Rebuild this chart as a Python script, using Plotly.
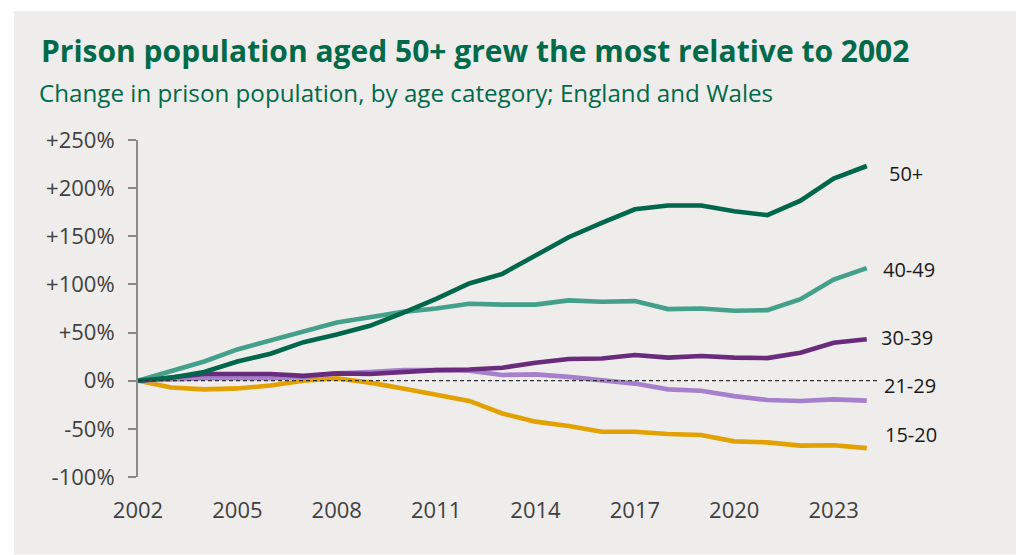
import plotly.graph_objects as go

years = list(range(2002, 2025))

age_15_20 = [0, -7, -9, -8, -5, 0, 2.5, -2, -8, -15, -21, -34, -42.5, -47, -53, -53, -55.3, -56.3, -63, -64, -67.4, -67, -70]
age_21_29 = [0, 1.5, 2.5, 2.5, 2.5, 4, 7.6, 9, 11, 11, 10.5, 6, 6.6, 4, 0, -3, -9, -10.4, -16, -20, -21, -19.4, -20.7]
age_30_39 = [0, 4, 7, 7, 7, 5, 7.6, 7, 9.4, 11, 11.7, 13.5, 18.7, 22.5, 23, 26.7, 24, 25.6, 24, 23.5, 29, 39.4, 43]
age_40_49 = [0, 10.4, 20, 32.5, 42, 51.5, 60.5, 66, 71.5, 75, 80, 79, 79, 83.4, 82, 82.7, 74.4, 75, 72.6, 73.3, 84.7, 105, 117]
age_50_plus = [0, 3, 9, 20, 28, 40, 48, 57, 70.5, 85, 101, 111, 130, 149, 164, 178, 182, 182, 176, 172, 187, 210, 223]

series_names = ["15-20", "21-29", "30-39", "40-49", "50+"]
series_values = [age_15_20, age_21_29, age_30_39, age_40_49, age_50_plus]

y_tick_vals = [-100, -50, 0, 50, 100, 150, 200, 250]
y_tick_text = ["-100%", "-50%", "0%", "+50%", "+100%", "+150%", "+200%", "+250%"]
x_tick_vals = [2002, 2005, 2008, 2011, 2014, 2017, 2020, 2023]

title_text = "Prison population aged 50+ grew the most relative to 2002"
subtitle_text = "Change in prison population, by age category; England and Wales"

colors = {
    "15-20": "#e2a100",
    "21-29": "#a680cc",
    "30-39": "#692c7d",
    "40-49": "#44a08a",
    "50+": "#00674a",
}
label_yshift = {"15-20": 14, "21-29": 15, "30-39": 2, "40-49": -1, "50+": -7}
label_xshift = {"15-20": 16, "21-29": 15, "30-39": 12, "40-49": 14, "50+": 20}

W, H = 1016, 555
L, R, T, B = 138, 136, 140, 77.5
PW = W - L - R
PH = H - T - B

fig = go.Figure()
for name, vals in zip(series_names, series_values):
    fig.add_trace(go.Scatter(
        x=years, y=vals, mode="lines", name=name,
        line=dict(color=colors[name], width=4.6),
        hoverinfo="skip",
    ))

annotations = []
for name, vals in zip(series_names, series_values):
    annotations.append(dict(
        x=years[-1], y=vals[-1], xref="x", yref="y",
        text=name, showarrow=False, xanchor="left", yanchor="middle",
        xshift=label_xshift[name], yshift=label_yshift[name],
        font=dict(family="Open Sans", size=20, color="#1a1a1a"),
    ))

annotations.append(dict(
    x=(39 - L) / PW, y=(H - B - 50.2) / PH, xref="paper", yref="paper",
    text="<b>" + title_text + "</b>", showarrow=False,
    xanchor="left", yanchor="middle",
    font=dict(family="Open Sans", size=30, color="#006a4a"),
))
annotations.append(dict(
    x=(37 - L) / PW, y=(H - B - 92.8) / PH, xref="paper", yref="paper",
    text=subtitle_text, showarrow=False,
    xanchor="left", yanchor="middle",
    font=dict(family="Open Sans", size=24.2, color="#006a4a"),
))

shapes = [
    dict(type="rect", xref="paper", yref="paper",
         x0=(14 - L) / PW, x1=(W - L) / PW, y0=-B / PH, y1=(H - B - 11) / PH,
         fillcolor="#efedeb", line=dict(width=0), layer="below"),
    dict(type="line", xref="x domain", yref="y", x0=0, x1=1, y0=0, y1=0,
         line=dict(color="#333333", width=1.2, dash="4px,3px"), layer="above"),
]

fig.update_layout(
    width=W, height=H,
    margin=dict(l=L, r=R, t=T, b=B, pad=0, autoexpand=False),
    paper_bgcolor="#ffffff",
    plot_bgcolor="rgba(0,0,0,0)",
    showlegend=False,
    hovermode=False,
    annotations=annotations,
    shapes=shapes,
    xaxis=dict(
        range=[2002, 2024.4], tickvals=x_tick_vals,
        showgrid=False, zeroline=False, showline=False,
        ticks="", ticklabelstandoff=18,
        tickfont=dict(family="Open Sans", size=22, color="#404040"),
    ),
    yaxis=dict(
        range=[-100, 250], tickvals=y_tick_vals, ticktext=y_tick_text,
        showgrid=False, zeroline=False, showline=True,
        linecolor="#8a8a8a", linewidth=2,
        ticks="outside", ticklen=8, tickwidth=2, tickcolor="#8a8a8a",
        ticklabelstandoff=9,
        tickfont=dict(family="Open Sans", size=22, color="#404040"),
    ),
)

fig.write_html(
    "out.html",
    config={"displayModeBar": False, "staticPlot": True},
    post_script="document.body.style.margin='0';document.body.style.overflow='hidden';",
)
